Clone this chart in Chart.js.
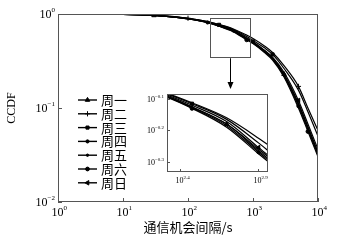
<!DOCTYPE html>
<html>
<head>
<meta charset="utf-8">
<script src="https://cdn.jsdelivr.net/npm/chart.js@4"></script>
<style>
  html, body { margin: 0; padding: 0; background: #fff; }
  #wrap { position: relative; width: 358px; height: 240px; }
  canvas { position: absolute; left: 0; top: 0; }
</style>
</head>
<body>
<div id="wrap">
  <canvas id="mainChart" width="358" height="240"></canvas>
  <canvas id="insetChart" width="358" height="240"></canvas>
</div>
<script>
  // communication-opportunity gap (s)
  const gaps = [1, 10, 30, 100, 200, 300, 500, 800, 1000, 1500, 2000, 3000, 5000, 7000, 10000];

  // log10(CCDF) for each weekday
  const mon = [0, -0.003, -0.015, -0.050, -0.088, -0.125, -0.180, -0.260, -0.300, -0.390, -0.470, -0.640, -0.95, -1.20, -1.47];
  const tue = [0, -0.002, -0.012, -0.045, -0.080, -0.112, -0.160, -0.225, -0.260, -0.340, -0.410, -0.550, -0.77, -1.00, -1.24];
  const wed = [0, -0.002, -0.012, -0.046, -0.082, -0.115, -0.165, -0.240, -0.280, -0.360, -0.430, -0.580, -0.81, -1.04, -1.30];
  const thu = [0, -0.003, -0.016, -0.052, -0.090, -0.128, -0.185, -0.270, -0.310, -0.400, -0.480, -0.660, -0.98, -1.23, -1.50];
  const fri = [0, -0.003, -0.015, -0.051, -0.089, -0.126, -0.180, -0.265, -0.305, -0.395, -0.475, -0.650, -0.96, -1.21, -1.48];
  const sat = [0, -0.003, -0.016, -0.053, -0.092, -0.130, -0.190, -0.275, -0.315, -0.410, -0.490, -0.670, -1.00, -1.25, -1.52];
  const sun = [0, -0.002, -0.014, -0.048, -0.085, -0.120, -0.172, -0.255, -0.295, -0.385, -0.460, -0.620, -0.92, -1.17, -1.44];

  const series = [mon, tue, wed, thu, fri, sat, sun];
  const dayNames = ['周一', '周二', '周三', '周四', '周五', '周六', '周日'];

  // tick exponents
  const xTickExp = [0, 1, 2, 3, 4];
  const yTickExp = [0, -1, -2];
  const insetXTickExp = [2.4, 2.9];
  const insetYTickExp = [-0.1, -0.2, -0.3];

  const SERIF = '"Liberation Serif", "Times New Roman", serif';
  const CJK = '"Noto Sans CJK SC", sans-serif';

  // marker look + which points get a marker (main / inset)
  const markers = [
    { style: 'triangle', rot: 0,   r: 2.6, main: [2, 11], inset: [6] },
    { style: 'cross',    rot: 0,   r: 2.6, main: [3, 12], inset: [] },
    { style: 'rect',     rot: 0,   r: 2.2, main: [5, 10], inset: [5] },
    { style: 'circle',   rot: 0,   r: 1.6, main: [4, 12], inset: [7] },
    { style: 'circle',   rot: 0,   r: 1.2, main: [6, 11], inset: [6] },
    { style: 'circle',   rot: 0,   r: 1.9, main: [7, 13], inset: [5] },
    { style: 'triangle', rot: -90, r: 2.6, main: [8, 12], inset: [7] }
  ];

  function makeSets(which) {
    return series.map((s, i) => ({
      label: dayNames[i],
      data: gaps.map((g, j) => ({ x: g, y: Math.pow(10, s[j]) })),
      borderColor: '#000',
      backgroundColor: '#000',
      borderWidth: 1.2,
      pointStyle: markers[i].style,
      rotation: markers[i].rot,
      pointBorderWidth: 1,
      pointRadius: gaps.map((g, j) => markers[i][which].includes(j) ? markers[i].r : 0),
      cubicInterpolationMode: 'monotone',
      fill: false
    }));
  }

  function powLabel(ctx, exp, x, y, size, align) {
    const base = '10';
    const sup = String(exp).replace('-', '\u2212');
    const supSize = Math.round(size * 0.62);
    ctx.font = size + 'px ' + SERIF;
    const wb = ctx.measureText(base).width;
    ctx.font = supSize + 'px ' + SERIF;
    const ws = ctx.measureText(sup).width;
    const left = align === 'right' ? x - wb - ws : x - wb / 2 - 1;
    ctx.textAlign = 'left';
    ctx.textBaseline = 'middle';
    ctx.fillStyle = '#000';
    ctx.font = size + 'px ' + SERIF;
    ctx.fillText(base, left, y);
    ctx.font = supSize + 'px ' + SERIF;
    ctx.fillText(sup, left + wb, y - size * 0.38);
  }

  const zoomBox = { x0: Math.pow(10, 2.34), x1: Math.pow(10, 2.95), y0: Math.pow(10, -0.04), y1: Math.pow(10, -0.46) };

  const mainDecor = {
    id: 'mainDecor',
    afterDraw(chart) {
      const ctx = chart.ctx, a = chart.chartArea;
      const xs = chart.scales.x, ys = chart.scales.y;
      ctx.save();
      // frame
      ctx.strokeStyle = '#555';
      ctx.lineWidth = 1;
      ctx.strokeRect(a.left + 0.5, a.top + 0.5, a.right - a.left - 1, a.bottom - a.top - 1);
      // ticks + labels
      ctx.beginPath();
      xTickExp.forEach(e => {
        const px = Math.round(xs.getPixelForValue(Math.pow(10, e))) + 0.5;
        ctx.moveTo(px, a.bottom); ctx.lineTo(px, a.bottom - 4);
        powLabel(ctx, e, px, a.bottom + 11, 12, 'center');
      });
      yTickExp.forEach(e => {
        const py = Math.round(ys.getPixelForValue(Math.pow(10, e))) + 0.5;
        ctx.moveTo(a.left, py); ctx.lineTo(a.left + 4, py);
        powLabel(ctx, e, a.left - 3, py, 12, 'right');
      });
      ctx.stroke();
      // axis titles
      ctx.fillStyle = '#000';
      ctx.textAlign = 'center';
      ctx.textBaseline = 'middle';
      ctx.font = '13px ' + CJK;
      ctx.fillText('通信机会间隔/s', (a.left + a.right) / 2, 227);
      ctx.save();
      ctx.translate(12, (a.top + a.bottom) / 2);
      ctx.rotate(-Math.PI / 2);
      ctx.font = '12px ' + SERIF;
      ctx.fillText('CCDF', 0, 0);
      ctx.restore();
      // zoom rectangle
      ctx.strokeStyle = '#555';
      const bx0 = xs.getPixelForValue(zoomBox.x0), bx1 = xs.getPixelForValue(zoomBox.x1);
      const by0 = ys.getPixelForValue(zoomBox.y0), by1 = ys.getPixelForValue(zoomBox.y1);
      ctx.strokeRect(Math.round(bx0) + 0.5, Math.round(by0) + 0.5, Math.round(bx1 - bx0), Math.round(by1 - by0));
      // legend
      const lx0 = 78, lx1 = 97, ly0 = 100, step = 13.8;
      chart.data.datasets.forEach((ds, i) => {
        const y = ly0 + i * step;
        ctx.strokeStyle = '#000';
        ctx.lineWidth = 1.4;
        ctx.beginPath();
        ctx.moveTo(lx0, y); ctx.lineTo(lx1, y);
        ctx.stroke();
        ctx.fillStyle = '#000';
        ctx.lineWidth = 1;
        Chart.helpers.drawPoint(ctx, {
          pointStyle: markers[i].style, rotation: markers[i].rot,
          radius: markers[i].r, borderWidth: 1
        }, (lx0 + lx1) / 2, y);
        ctx.fillStyle = '#000';
        ctx.font = '13px ' + CJK;
        ctx.textAlign = 'left';
        ctx.textBaseline = 'middle';
        ctx.fillText(ds.label, lx1 + 4, y);
      });
      ctx.restore();
    }
  };

  const mainChart = new Chart(document.getElementById('mainChart').getContext('2d'), {
    type: 'line',
    data: { datasets: makeSets('main') },
    options: {
      responsive: false,
      animation: false,
      layout: { padding: { left: 58, top: 14, right: 40, bottom: 38 } },
      plugins: { legend: { display: false }, tooltip: { enabled: false } },
      scales: {
        x: { type: 'logarithmic', min: 1, max: 10000, display: false },
        y: { type: 'logarithmic', min: 0.01, max: 1, display: false }
      }
    },
    plugins: [mainDecor]
  });

  const insetDecor = {
    id: 'insetDecor',
    beforeDatasetsDraw(chart) {
      const ctx = chart.ctx, a = chart.chartArea;
      ctx.save();
      ctx.fillStyle = '#fff';
      ctx.fillRect(a.left, a.top, a.right - a.left, a.bottom - a.top);
      ctx.restore();
    },
    afterDraw(chart) {
      const ctx = chart.ctx, a = chart.chartArea;
      const xs = chart.scales.x, ys = chart.scales.y;
      ctx.save();
      ctx.strokeStyle = '#555';
      ctx.lineWidth = 1;
      ctx.strokeRect(a.left + 0.5, a.top + 0.5, a.right - a.left - 1, a.bottom - a.top - 1);
      ctx.beginPath();
      insetXTickExp.forEach(e => {
        const px = Math.round(xs.getPixelForValue(Math.pow(10, e))) + 0.5;
        ctx.moveTo(px, a.bottom); ctx.lineTo(px, a.bottom - 3);
        powLabel(ctx, e, px, a.bottom + 9, 8, 'center');
      });
      insetYTickExp.forEach(e => {
        const py = Math.round(ys.getPixelForValue(Math.pow(10, e))) + 0.5;
        ctx.moveTo(a.left, py); ctx.lineTo(a.left + 3, py);
        powLabel(ctx, e, a.left - 3, py, 8, 'right');
      });
      ctx.stroke();
      // arrow from zoom rectangle down to the inset
      const mx = mainChart.scales.x, my = mainChart.scales.y;
      const ax = Math.round(mx.getPixelForValue(Math.sqrt(zoomBox.x0 * zoomBox.x1))) + 0.5;
      const ay0 = my.getPixelForValue(zoomBox.y1) + 1;
      const ay1 = a.top - 6;
      ctx.strokeStyle = '#000';
      ctx.beginPath();
      ctx.moveTo(ax, ay0); ctx.lineTo(ax, ay1 - 4);
      ctx.stroke();
      ctx.fillStyle = '#000';
      ctx.beginPath();
      ctx.moveTo(ax - 3, ay1 - 6); ctx.lineTo(ax + 3, ay1 - 6); ctx.lineTo(ax, ay1 + 1);
      ctx.closePath();
      ctx.fill();
      ctx.restore();
    }
  };

  new Chart(document.getElementById('insetChart').getContext('2d'), {
    type: 'line',
    data: { datasets: makeSets('inset') },
    options: {
      responsive: false,
      animation: false,
      layout: { padding: { left: 167, top: 94, right: 90, bottom: 68 } },
      plugins: { legend: { display: false }, tooltip: { enabled: false } },
      scales: {
        x: { type: 'logarithmic', min: Math.pow(10, 2.317), max: Math.pow(10, 2.964), display: false },
        y: { type: 'logarithmic', min: Math.pow(10, -0.333), max: Math.pow(10, -0.084), display: false }
      }
    },
    plugins: [insetDecor]
  });
</script>
</body>
</html>
